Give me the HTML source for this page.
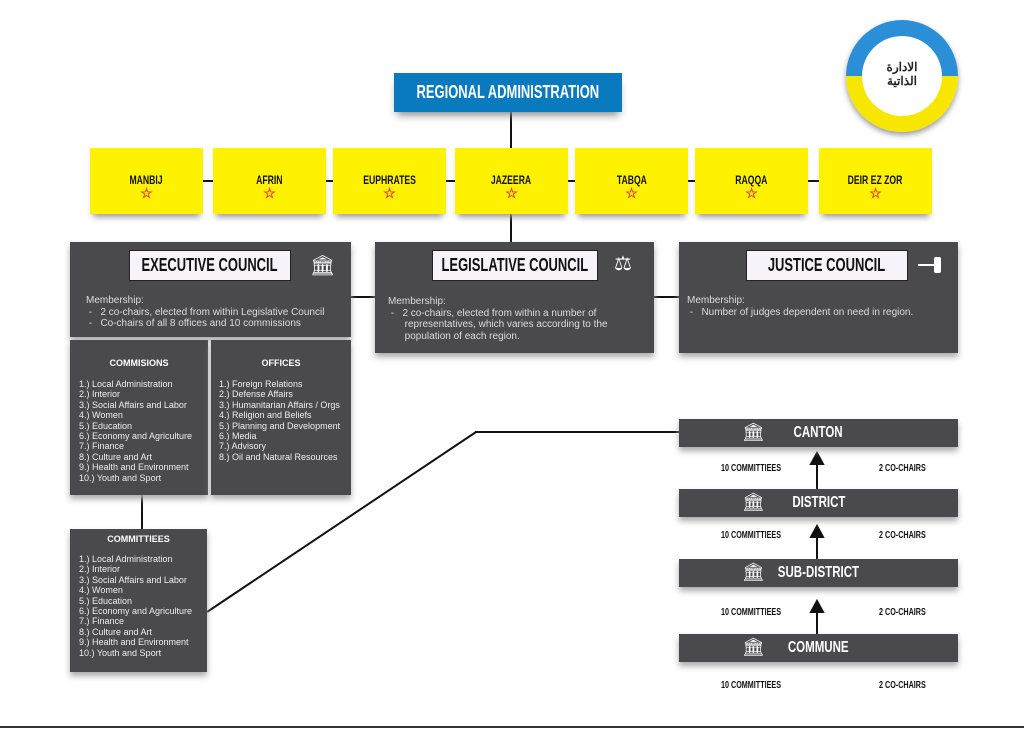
<!DOCTYPE html>
<html><head><meta charset="utf-8"><style>
*{margin:0;padding:0;box-sizing:border-box}
body{width:1024px;height:730px;background:#fff;position:relative;overflow:hidden;font-family:"Liberation Sans",sans-serif}
.a{position:absolute}
.cond{font-family:"Liberation Sans",sans-serif;font-weight:bold;white-space:nowrap}
.cond s{text-decoration:none;display:inline-block;transform:scaleX(.72);margin:0 -60px}
.y{background:#fff200;height:66px;top:148px;width:113px;text-align:center;font-size:12px;color:#111;box-shadow:0 6px 6px -3px #999}
.y div{margin-top:25px}
.y span{display:block;color:#e8403c;font-size:14px;line-height:13px}
.g{background:#4a4a4c;color:#eee;box-shadow:0 4px 6px #aaa}
.t{background:#f6f4fa;border:1.5px solid #222;color:#111;font-size:18px;text-align:center;line-height:28px;height:31px}
.m{font-size:10px;line-height:11.5px;color:#ddd}
.l{font-size:9px;line-height:10.4px;color:#eee}
.h{font-size:9px;font-weight:bold;text-align:center;color:#fff}
.bar{left:679px;width:279px;height:28px;text-align:center;font-size:16px;line-height:28px;color:#fff}
.lab{font-size:10px;color:#111}
.lab s{margin:0 !important;transform-origin:left}
.ln{background:#111}
</style></head><body>
<div class="a" style="left:0;top:726px;width:1024px;height:2px;background:#333"></div>
<div class="a ln" style="left:510px;top:112px;width:2px;height:130px"></div>
<div class="a ln" style="left:200px;top:180px;width:630px;height:2px"></div>
<div class="a ln" style="left:351px;top:296px;width:24px;height:2px"></div>
<div class="a ln" style="left:654px;top:296px;width:25px;height:2px"></div>
<div class="a ln" style="left:141px;top:495px;width:2px;height:34px"></div>
<div class="a ln" style="left:475px;top:431px;width:204px;height:2px"></div>
<svg class="a" style="left:0;top:0" width="1024" height="730"><line x1="207" y1="612" x2="476" y2="432" stroke="#111" stroke-width="2"/>
<g fill="#111" stroke="#111" stroke-width="2">
<line x1="817" y1="489" x2="817" y2="462"/><polygon points="811,464 823,464 817,453"/>
<line x1="817" y1="559" x2="817" y2="535"/><polygon points="811,537 823,537 817,526"/>
<line x1="817" y1="634" x2="817" y2="610"/><polygon points="811,612 823,612 817,601"/>
</g></svg>
<div class="a cond" style="left:394px;top:73px;width:228px;height:39px;background:#0a7abf;color:#fff;font-size:18px;text-align:center;line-height:39px;box-shadow:0 6px 8px -3px #888"><s>REGIONAL ADMINISTRATION</s></div>
<div class="a y cond" style="left:90px"><div><s>MANBIJ</s><span>☆</span></div></div>
<div class="a y cond" style="left:213px"><div><s>AFRIN</s><span>☆</span></div></div>
<div class="a y cond" style="left:333px"><div><s>EUPHRATES</s><span>☆</span></div></div>
<div class="a y cond" style="left:455px"><div><s>JAZEERA</s><span>☆</span></div></div>
<div class="a y cond" style="left:575px"><div><s>TABQA</s><span>☆</span></div></div>
<div class="a y cond" style="left:695px"><div><s>RAQQA</s><span>☆</span></div></div>
<div class="a y cond" style="left:819px"><div><s>DEIR EZ ZOR</s><span>☆</span></div></div>
<div class="a" style="left:846px;top:20px;width:112px;height:112px;border-radius:50%;background:linear-gradient(#2a8fd6 50%,#f7e600 50%);box-shadow:0 3px 6px #999"></div>
<div class="a" style="left:862px;top:36px;width:80px;height:80px;border-radius:50%;background:#fff;text-align:center;font-size:12px;color:#222;padding-top:24px;font-family:'Noto Sans CJK SC',sans-serif;font-weight:bold;line-height:14px">الادارة<br>الذاتية</div>
<div class="a g" style="left:70px;top:242px;width:281px;height:95px"></div>
<div class="a t cond" style="left:129px;top:250px;width:162px"><s>EXECUTIVE COUNCIL</s></div>
<div class="a" style="left:310px;top:253px;color:#fff;font-size:20px">🏛</div>
<div class="a m" style="left:86px;top:295px">Membership:<br>&nbsp;-&nbsp;&nbsp; 2 co-chairs, elected from within Legislative Council<br>&nbsp;-&nbsp;&nbsp; Co-chairs of all 8 offices and 10 commissions</div>
<div class="a g" style="left:375px;top:242px;width:279px;height:111px"></div>
<div class="a t cond" style="left:432px;top:250px;width:166px"><s>LEGISLATIVE COUNCIL</s></div>
<div class="a" style="left:614px;top:251px;color:#fff;font-size:20px">⚖</div>
<div class="a m" style="left:388px;top:296px">Membership:<br>&nbsp;-&nbsp;&nbsp; 2 co-chairs, elected from within a number of<br>&nbsp;&nbsp;&nbsp;&nbsp;&nbsp; representatives, which varies according to the<br>&nbsp;&nbsp;&nbsp;&nbsp;&nbsp; population of each region.</div>
<div class="a g" style="left:679px;top:242px;width:279px;height:111px"></div>
<div class="a t cond" style="left:746px;top:250px;width:162px"><s>JUSTICE COUNCIL</s></div>
<div class="a" style="left:918px;top:264px;width:16px;height:2px;background:#fff"></div>
<div class="a" style="left:934px;top:257px;width:7px;height:16px;background:#fff;border-radius:2px"></div>
<div class="a m" style="left:687px;top:295px">Membership:<br>&nbsp;-&nbsp;&nbsp; Number of judges dependent on need in region.</div>
<div class="a g" style="left:70px;top:340px;width:138px;height:155px"></div>
<div class="a h" style="left:70px;top:358px;width:138px">COMMISIONS</div>
<div class="a l" style="left:79px;top:379px">1.) Local Administration<br>2.) Interior<br>3.) Social Affairs and Labor<br>4.) Women<br>5.) Education<br>6.) Economy and Agriculture<br>7.) Finance<br>8.) Culture and Art<br>9.) Health and Environment<br>10.) Youth and Sport</div>
<div class="a g" style="left:211px;top:340px;width:140px;height:155px"></div>
<div class="a h" style="left:211px;top:358px;width:140px">OFFICES</div>
<div class="a l" style="left:219px;top:379px">1.) Foreign Relations<br>2.) Defense Affairs<br>3.) Humanitarian Affairs / Orgs<br>4.) Religion and Beliefs<br>5.) Planning and Development<br>6.) Media<br>7.) Advisory<br>8.) Oil and Natural Resources</div>
<div class="a g" style="left:70px;top:529px;width:137px;height:143px"></div>
<div class="a h" style="left:70px;top:534px;width:137px">COMMITTIEES</div>
<div class="a l" style="left:79px;top:554px">1.) Local Administration<br>2.) Interior<br>3.) Social Affairs and Labor<br>4.) Women<br>5.) Education<br>6.) Economy and Agriculture<br>7.) Finance<br>8.) Culture and Art<br>9.) Health and Environment<br>10.) Youth and Sport</div>
<div class="a g bar cond" style="top:419px"><s>CANTON</s></div>
<div class="a g bar cond" style="top:489px"><s>DISTRICT</s></div>
<div class="a g bar cond" style="top:559px"><s>SUB-DISTRICT</s></div>
<div class="a g bar cond" style="top:634px"><s>COMMUNE</s></div>
<div class="a" style="left:742px;top:422px;color:#fff;font-size:18px">🏛</div>
<div class="a" style="left:742px;top:492px;color:#fff;font-size:18px">🏛</div>
<div class="a" style="left:742px;top:562px;color:#fff;font-size:18px">🏛</div>
<div class="a" style="left:742px;top:637px;color:#fff;font-size:18px">🏛</div>
<div class="a lab cond" style="left:721px;top:463px"><s>10 COMMITTIEES</s></div><div class="a lab cond" style="left:879px;top:463px"><s>2 CO-CHAIRS</s></div>
<div class="a lab cond" style="left:721px;top:530px"><s>10 COMMITTIEES</s></div><div class="a lab cond" style="left:879px;top:530px"><s>2 CO-CHAIRS</s></div>
<div class="a lab cond" style="left:721px;top:607px"><s>10 COMMITTIEES</s></div><div class="a lab cond" style="left:879px;top:607px"><s>2 CO-CHAIRS</s></div>
<div class="a lab cond" style="left:721px;top:680px"><s>10 COMMITTIEES</s></div><div class="a lab cond" style="left:879px;top:680px"><s>2 CO-CHAIRS</s></div>
</body></html>
